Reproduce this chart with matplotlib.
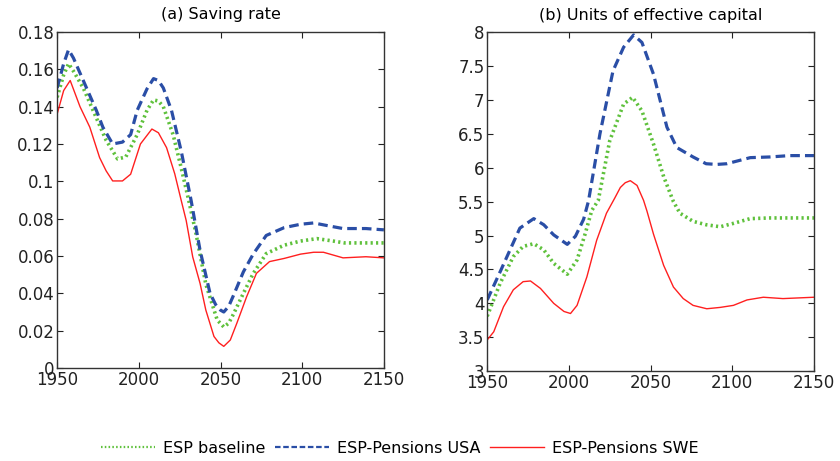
import matplotlib
matplotlib.use("Agg")
import matplotlib.pyplot as plt
from matplotlib.lines import Line2D

plt.rcParams['font.family'] = ['DejaVu Sans']

# (a) saving rate
sr_years_usa = [1950, 1954, 1957, 1960, 1964, 1974, 1978, 1984, 1990, 1995, 1999, 2005, 2009,
                2012, 2015, 2020, 2026, 2032, 2037.5, 2043.6, 2047, 2050, 2052, 2055, 2058, 2064,
                2070, 2078, 2089, 2099, 2107, 2117, 2125, 2139, 2150]
sr_usa = [0.150, 0.163, 0.1705, 0.166, 0.158, 0.138, 0.129, 0.120, 0.121, 0.125, 0.138, 0.1495,
          0.155, 0.154, 0.150, 0.138, 0.116, 0.0898, 0.063, 0.040, 0.034, 0.031, 0.030, 0.033,
          0.039, 0.0515, 0.061, 0.071, 0.0752, 0.077, 0.0777, 0.076, 0.0747, 0.0747, 0.074]
sr_years_base = [1950, 1954, 1957, 1960, 1966, 1974, 1980, 1987, 1992, 1999, 2005, 2009, 2012,
                 2015, 2021, 2026, 2030.5, 2035, 2041, 2048, 2052, 2055, 2058, 2064, 2070, 2078,
                 2089, 2099, 2109, 2119, 2126, 2150]
sr_base = [0.145, 0.157, 0.163, 0.159, 0.150, 0.134, 0.122, 0.112, 0.113, 0.125, 0.138, 0.1436,
           0.143, 0.140, 0.125, 0.107, 0.090, 0.072, 0.045, 0.0257, 0.022, 0.024, 0.029, 0.040,
           0.0506, 0.0613, 0.0658, 0.068, 0.0693, 0.068, 0.067, 0.067]
sr_years_swe = [1950, 1954, 1958, 1964, 1970, 1976, 1980, 1984, 1990, 1995, 2001, 2008, 2012,
                2017, 2022, 2026, 2029, 2033, 2037.5, 2041, 2046, 2049, 2052, 2056, 2060, 2066,
                2072, 2080, 2089, 2099, 2107, 2113, 2125, 2139, 2150]
sr_swe = [0.136, 0.1486, 0.154, 0.140, 0.129, 0.1127, 0.1056, 0.1002, 0.1002, 0.1038, 0.120,
          0.128, 0.126, 0.118, 0.104, 0.0896, 0.079, 0.0595, 0.0453, 0.0311, 0.0169, 0.0135,
          0.0116, 0.015, 0.024, 0.0382, 0.0507, 0.057, 0.0587, 0.061, 0.062, 0.062, 0.059,
          0.0596, 0.059]

# (b) units of effective capital
k_years_usa = [1950, 1958, 1964, 1970, 1978.5, 1984.6, 1990.7, 1999, 2004, 2009, 2012, 2019,
               2027, 2033.5, 2039.6, 2044.7, 2051.8, 2060, 2066, 2076, 2084, 2090.5, 2096.6,
               2111, 2123, 2135, 2150]
k_usa = [4.05, 4.47, 4.79, 5.11, 5.25, 5.16, 5.01, 4.87, 4.99, 5.24, 5.51, 6.5, 7.43, 7.78, 7.96,
         7.85, 7.38, 6.6, 6.3, 6.16, 6.06, 6.05, 6.06, 6.15, 6.16, 6.18, 6.18]
k_years_base = [1950, 1958, 1966, 1972, 1978.5, 1984.6, 1990.7, 1999, 2005, 2010, 2014, 2018,
                2025, 2033.5, 2039, 2044.7, 2051.8, 2058, 2064, 2068, 2076, 2084, 2092.6,
                2100.7, 2111, 2123, 2150]
k_base = [3.81, 4.3, 4.69, 4.84, 4.88, 4.79, 4.59, 4.43, 4.64, 5.03, 5.37, 5.52, 6.4, 6.94, 7.04,
          6.84, 6.35, 5.87, 5.5, 5.33, 5.21, 5.16, 5.13, 5.18, 5.25, 5.26, 5.26]
k_years_swe = [1950, 1954, 1960, 1966, 1972, 1976.5, 1982.6, 1990.7, 1997, 2001, 2005, 2011,
               2017, 2023, 2028, 2031.5, 2034.5, 2037.6, 2041.7, 2045.7, 2047.8, 2051.8, 2058,
               2064, 2070, 2076, 2084.4, 2092.6, 2100.7, 2109, 2119, 2131, 2150]
k_swe = [3.46, 3.58, 3.95, 4.2, 4.32, 4.33, 4.22, 4.0, 3.88, 3.85, 3.97, 4.39, 4.93, 5.33, 5.55,
         5.71, 5.78, 5.81, 5.74, 5.52, 5.36, 5.02, 4.56, 4.24, 4.07, 3.97, 3.92, 3.94, 3.97, 4.05,
         4.09, 4.07, 4.09]

labels = ['ESP baseline', 'ESP-Pensions USA', 'ESP-Pensions SWE']
green = '#5fc13c'
blue = '#2a4ea6'
red = '#ff1f1f'

fig = plt.figure(figsize=(8.4, 4.61), dpi=100)
ax1 = fig.add_axes([0.068, 0.2017, 0.389, 0.729])
ax2 = fig.add_axes([0.580, 0.195, 0.389, 0.735])

def style(ax):
    ax.tick_params(direction='in', top=True, right=True, labelsize=12, length=4,
                   colors='#222222', pad=2)
    for s in ax.spines.values():
        s.set_color('#333333')
        s.set_linewidth(1.0)
    ax.set_xlim(1950, 2150)
    ax.set_xticks([1950, 2000, 2050, 2100, 2150])

ax1.plot(sr_years_base, sr_base, color=green, lw=2.6, ls=(0, (0.6, 0.9)))
ax1.plot(sr_years_usa, sr_usa, color=blue, lw=2.3, ls=(0, (3, 1.6)))
ax1.plot(sr_years_swe, sr_swe, color=red, lw=1.0)
ax1.set_ylim(0, 0.18)
ax1.set_yticks([0, 0.02, 0.04, 0.06, 0.08, 0.1, 0.12, 0.14, 0.16, 0.18])
ax1.set_yticklabels(['0', '0.02', '0.04', '0.06', '0.08', '0.1', '0.12', '0.14', '0.16', '0.18'])
ax1.set_title('(a) Saving rate', fontsize=11.5, pad=9)
style(ax1)

ax2.plot(k_years_base, k_base, color=green, lw=2.6, ls=(0, (0.6, 0.9)))
ax2.plot(k_years_usa, k_usa, color=blue, lw=2.3, ls=(0, (3, 1.6)))
ax2.plot(k_years_swe, k_swe, color=red, lw=1.0)
ax2.set_ylim(3, 8)
ax2.set_yticks([3, 3.5, 4, 4.5, 5, 5.5, 6, 6.5, 7, 7.5, 8])
ax2.set_yticklabels(['3', '3.5', '4', '4.5', '5', '5.5', '6', '6.5', '7', '7.5', '8'])
ax2.set_title('(b) Units of effective capital', fontsize=11.5, pad=9)
style(ax2)

handles = [Line2D([], [], color=green, lw=1.6, ls=(0, (0.7, 1.0))),
           Line2D([], [], color=blue, lw=1.6, ls=(0, (2.5, 1.2))),
           Line2D([], [], color=red, lw=1.0)]
fig.legend(handles, labels, loc='center', bbox_to_anchor=(0.476, 0.028), ncol=3, frameon=False,
           fontsize=11.5, handlelength=3.4, handletextpad=0.5, columnspacing=0.6)

fig.savefig('out.png', dpi=100)
